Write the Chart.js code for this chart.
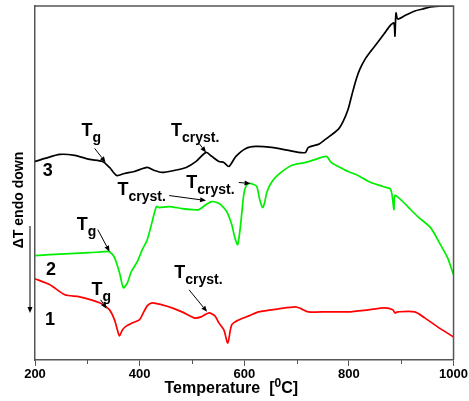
<!DOCTYPE html>
<html>
<head>
<meta charset="utf-8">
<title>DTA curves</title>
<script src="https://cdn.jsdelivr.net/npm/chart.js@4.4.0/dist/chart.umd.min.js"></script>
<style>
  html, body { margin: 0; padding: 0; background: #fff; }
  #dtaChart { display: block; }
</style>
</head>
<body>
<canvas id="dtaChart" width="469" height="401"></canvas>
<script>
// ===== DATA (y in arbitrary units) =====
const xTicks = [200, 400, 600, 800, 1000];
const xMinorTicks = [300, 500, 700, 900];

// curve 3 (black)
const temp3 = [200, 219, 247.5, 276, 304.5, 329, 342.5, 356, 371, 390, 414.5, 428, 443, 466, 489, 508, 527, 538,
  551.5, 561, 570.5, 584, 603, 622, 652, 684.5, 703.5, 717, 722.5, 741.5, 755, 779.5, 789, 798.5, 806, 814, 821,
  831, 842, 855.5, 867, 878, 886, 888, 890, 893.5, 909, 926, 941, 956, 979, 1000];
const val3 = [198, 201, 205, 204, 200, 198, 192, 184, 186, 188, 192, 189, 187, 189, 192, 198, 207, 203,
  198, 197, 193, 203, 211, 213, 212, 209, 207, 207, 212, 215, 220, 230, 238, 250, 265, 280, 290,
  300, 308, 317, 325, 333, 336, 323, 346, 340, 344, 348, 350, 352, 353, 353];

// curve 2 (green)
const temp2 = [200, 228.5, 266.5, 304.5, 333, 342.5, 352, 361.5, 369, 376.5, 384, 395.5, 405, 414.5, 424, 432,
  437.5, 456.5, 481, 500, 513.5, 527, 538, 547.5, 555, 566.5, 576, 582, 587.5, 593, 599, 603, 608.5, 618, 624,
  629.5, 635, 639, 643, 652, 665.5, 690, 717, 736, 757, 766, 779.5, 798.5, 817.5, 842, 865, 880, 886, 888,
  899, 912.5, 931.5, 956, 975, 988.5, 1000];
const val2 = [104, 105, 106, 107, 108, 108, 102, 87, 72, 77, 88, 98, 110, 120, 138, 153,
  152, 153, 151, 150, 150, 155, 158, 157, 155, 148, 135, 122, 115, 135, 165, 173, 176, 175, 173,
  160, 152, 157, 167, 177, 185, 194, 197, 200, 203, 197, 193, 188, 184, 177, 173, 170, 150, 164,
  160, 153, 143, 132, 115, 102, 85];

// curve 1 (red)
const temp1 = [200, 228.5, 257, 285.5, 323.5, 342.5, 352, 357.5, 361.5, 367, 375, 386, 399.5, 405, 414.5, 424,
  443, 462, 481, 504, 517.5, 532.5, 544, 551.5, 561, 568.5, 576, 589.5, 608.5, 627.5, 665.5, 698, 709, 722.5,
  760.5, 798.5, 836.5, 869, 884, 888, 893.5, 926, 945, 969.5, 1000];
const val1 = [81, 75, 65, 63, 57, 50, 40, 30, 24, 30, 34, 37, 40, 45, 54, 57,
  55, 52, 48, 42, 43, 47, 44, 37, 30, 17, 35, 40, 44, 48, 51, 53, 51, 48,
  48, 48, 50, 52, 50, 47, 48, 48, 42, 33, 23];

(function () {
    'use strict';

    const FONT = '"Liberation Sans", Arial, sans-serif';

    // ===== NHÃN CHÚ THÍCH (vị trí theo đơn vị dữ liệu) =====
    const notes = [
        { main: 'T', sub: 'g', x: 289, y: 223, from: [314, 211], to: [335, 197] },
        { main: 'T', sub: 'cryst.', x: 460, y: 223, from: [513.5, 216], to: [527, 207] },
        { main: 'T', sub: 'cryst.', x: 357.7, y: 165, from: [456.5, 164], to: [527, 159] },
        { main: 'T', sub: 'cryst.', x: 489, y: 172, from: [589.5, 177], to: [612, 176] },
        { main: 'T', sub: 'g', x: 280, y: 130, from: [320, 130], to: [342.5, 108] },
        { main: 'T', sub: 'g', x: 308, y: 65, from: [325.5, 60], to: [337, 51] },
        { main: 'T', sub: 'cryst.', x: 466, y: 82, from: [494.5, 70], to: [529, 48] },
        { main: '3', x: 215, y: 183 },
        { main: '2', x: 221, y: 85 },
        { main: '1', x: 219, y: 35 }
    ];

    function toPoints(xs, ys) {
        return xs.map(function (t, i) { return { x: t, y: ys[i] }; });
    }

    function drawArrow(ctx, x1, y1, x2, y2) {
        const ang = Math.atan2(y2 - y1, x2 - x1);
        const len = 6, w = 2.5;
        ctx.beginPath();
        ctx.moveTo(x1, y1);
        ctx.lineTo(x2 - Math.cos(ang) * len, y2 - Math.sin(ang) * len);
        ctx.stroke();
        ctx.beginPath();
        ctx.moveTo(x2, y2);
        ctx.lineTo(x2 - Math.cos(ang) * len - Math.sin(ang) * w, y2 - Math.sin(ang) * len + Math.cos(ang) * w);
        ctx.lineTo(x2 - Math.cos(ang) * len + Math.sin(ang) * w, y2 - Math.sin(ang) * len - Math.cos(ang) * w);
        ctx.closePath();
        ctx.fill();
    }

    // plugin vẽ khung, vạch phụ, tiêu đề trục và chú thích
    const dtaDecor = {
        id: 'dtaDecor',
        afterDraw: function (chart) {
            const ctx = chart.ctx;
            const a = chart.chartArea;
            const xs = chart.scales.x, ys = chart.scales.y;

            ctx.save();
            // khung trên + phải
            ctx.strokeStyle = '#555';
            ctx.lineWidth = 1.5;
            ctx.beginPath();
            ctx.moveTo(a.left, a.top);
            ctx.lineTo(a.right, a.top);
            ctx.lineTo(a.right, a.bottom);
            ctx.stroke();

            // vạch phụ trục X
            ctx.lineWidth = 1;
            xMinorTicks.forEach(function (v) {
                const px = Math.round(xs.getPixelForValue(v)) + 0.5;
                ctx.beginPath();
                ctx.moveTo(px, a.bottom);
                ctx.lineTo(px, a.bottom + 4);
                ctx.stroke();
            });

            ctx.fillStyle = '#000';
            ctx.strokeStyle = '#000';
            ctx.lineWidth = 1;
            ctx.textBaseline = 'alphabetic';
            ctx.textAlign = 'left';

            notes.forEach(function (n) {
                const px = xs.getPixelForValue(n.x);
                const py = ys.getPixelForValue(n.y);
                ctx.font = 'bold 18px ' + FONT;
                ctx.fillText(n.main, px, py);
                if (n.sub) {
                    const w = ctx.measureText(n.main).width;
                    ctx.font = 'bold 14px ' + FONT;
                    ctx.fillText(n.sub, px + w, py + 6);
                }
                if (n.from) {
                    drawArrow(ctx,
                        xs.getPixelForValue(n.from[0]), ys.getPixelForValue(n.from[1]),
                        xs.getPixelForValue(n.to[0]), ys.getPixelForValue(n.to[1]));
                }
            });

            // tiêu đề trục X: Temperature [0C]
            const cx = (a.left + a.right) / 2 - 13;
            const base = a.bottom + 33;
            const t1 = 'Temperature  [', sup = '0', t2 = 'C]';
            ctx.font = 'bold 16px ' + FONT;
            const w1 = ctx.measureText(t1).width, w3 = ctx.measureText(t2).width;
            ctx.font = 'bold 12px ' + FONT;
            const w2 = ctx.measureText(sup).width;
            const sx = cx - (w1 + w2 + w3) / 2;
            ctx.font = 'bold 16px ' + FONT;
            ctx.fillText(t1, sx, base);
            ctx.font = 'bold 12px ' + FONT;
            ctx.fillText(sup, sx + w1, base - 6);
            ctx.font = 'bold 16px ' + FONT;
            ctx.fillText(t2, sx + w1 + w2, base);

            // tiêu đề trục Y + mũi tên
            ctx.save();
            ctx.translate(23, 200);
            ctx.rotate(-Math.PI / 2);
            ctx.textAlign = 'center';
            ctx.font = 'bold 14px ' + FONT;
            ctx.fillText('\u0394T endo down', 0, 0);
            ctx.restore();
            drawArrow(ctx, 30, 226, 30, 313);

            ctx.restore();
        }
    };

    function initChart() {
        const ctx = document.getElementById('dtaChart').getContext('2d');
        const common = { pointRadius: 0, borderWidth: 1.7, tension: 0.25, fill: false };

        new Chart(ctx, {
            type: 'line',
            data: {
                datasets: [
                    Object.assign({ label: '3', data: toPoints(temp3, val3), borderColor: '#000000' }, common),
                    Object.assign({ label: '2', data: toPoints(temp2, val2), borderColor: '#00ee00' }, common),
                    Object.assign({ label: '1', data: toPoints(temp1, val1), borderColor: '#ff0000' }, common)
                ]
            },
            options: {
                responsive: false,
                animation: false,
                devicePixelRatio: 1,
                layout: { padding: { top: 6, right: 11, left: 0, bottom: 0 } },
                plugins: { legend: { display: false }, tooltip: { enabled: false } },
                scales: {
                    x: {
                        type: 'linear',
                        min: xTicks[0],
                        max: xTicks[xTicks.length - 1],
                        afterFit: function (s) { s.height = 41; },
                        border: { color: '#555', width: 1.5 },
                        grid: { drawOnChartArea: false, tickLength: 6, color: '#555', lineWidth: 1 },
                        ticks: {
                            stepSize: 200,
                            autoSkip: false,
                            maxRotation: 0,
                            padding: 1,
                            color: '#000',
                            font: { family: FONT, size: 13, weight: 'bold' },
                            callback: function (v) { return String(v); }
                        }
                    },
                    y: {
                        min: 0,
                        max: 353,
                        afterFit: function (s) { s.width = 35; },
                        border: { color: '#555', width: 1.5 },
                        grid: { display: false },
                        ticks: { display: false }
                    }
                }
            },
            plugins: [dtaDecor]
        });
        console.log('[DTA] chart drawn');
    }

    initChart();
})();
</script>
</body>
</html>
